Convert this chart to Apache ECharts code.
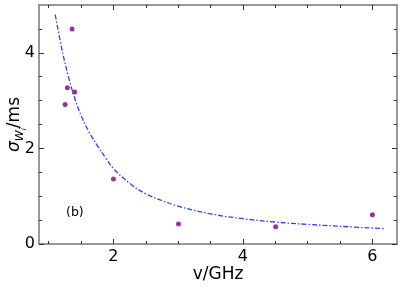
<!DOCTYPE html>
<html><head><meta charset="utf-8">
<script src="https://cdn.jsdelivr.net/npm/echarts@6/dist/echarts.min.js"></script>
<style>html,body{margin:0;padding:0;background:#fff}#c{width:407px;height:289px}</style>
</head><body><div id="c"></div>
<script>
// measured points (x = frequency GHz, y = sigma ms)
const pointsX = [1.253, 1.288, 1.361, 1.40, 2.0, 3.005, 4.506, 6.0];
const pointsY = [2.92, 3.27, 4.50, 3.18, 1.36, 0.42, 0.36, 0.61];
// fit curve
const curveX = [1.10, 1.20, 1.30, 1.40, 1.50, 1.62, 1.75, 1.88, 2.0, 2.25, 2.5, 2.75, 3.0, 3.5, 4.0, 4.5, 5.0, 5.5, 6.2];
const curveY = [4.80, 4.10, 3.52, 3.06, 2.69, 2.35, 2.06, 1.80, 1.58, 1.27, 1.05, 0.91, 0.79, 0.63, 0.53, 0.46, 0.41, 0.37, 0.32];
const xMajor = [2, 4, 6];
const xMinor = [1, 1.5, 2.5, 3, 3.5, 4.5, 5, 5.5];
const yMajor = [0, 2, 4];
const yMinor = [0.5, 1, 1.5, 2.5, 3, 3.5, 4.5];

const XMIN = 0.85, XMAX = 6.38, YMIN = 0, YMAX = 5.0;
const lineC = '#777', tickC = '#333';
function xa(pos, vals, len, labels, withLine) {
  return {
    type: 'value', position: pos, min: XMIN, max: XMAX,
    axisLine: {show: withLine, onZero: false, lineStyle: {color: lineC, width: 1.5}},
    axisTick: {show: true, inside: true, length: len, customValues: vals, lineStyle: {color: tickC, width: 1}},
    axisLabel: labels ? {show: true, customValues: vals, color: '#000', fontSize: 16, fontFamily: 'DejaVu Sans', margin: 5} : {show: false},
    splitLine: {show: false}
  };
}
function ya(pos, vals, len, labels, withLine) {
  return {
    type: 'value', position: pos, min: YMIN, max: YMAX,
    axisLine: {show: withLine, onZero: false, lineStyle: {color: lineC, width: 1.5}},
    axisTick: {show: true, inside: true, length: len, customValues: vals, lineStyle: {color: tickC, width: 1}},
    axisLabel: labels ? {show: true, customValues: vals, color: '#000', fontSize: 16, fontFamily: 'DejaVu Sans', margin: 4} : {show: false},
    splitLine: {show: false}
  };
}
const xAxes = [xa('bottom', xMajor, 5, true, true), xa('bottom', xMinor, 3, false, false), xa('top', xMajor, 5, false, true), xa('top', xMinor, 3, false, false)];
xAxes[0].name = 'v/GHz';
xAxes[0].nameLocation = 'middle';
xAxes[0].nameGap = 22;
xAxes[0].nameMoveOverlap = false;
xAxes[0].nameTextStyle = {fontSize: 17, fontFamily: 'DejaVu Sans', color: '#000'};
const yAxes = [ya('left', yMajor, 5, true, true), ya('left', yMinor, 3, false, false), ya('right', yMajor, 5, false, true), ya('right', yMinor, 3, false, false)];
yAxes[0].name = '{s|σ}{w|W}{i|i}{n|/ms}';
yAxes[0].nameLocation = 'middle';
yAxes[0].nameRotate = 90;
yAxes[0].nameGap = 16;
yAxes[0].nameMoveOverlap = false;
yAxes[0].nameTextStyle = {
  fontSize: 17, fontFamily: 'DejaVu Sans', color: '#000',
  rich: {
    s: {fontSize: 17, fontStyle: 'italic', fontFamily: 'DejaVu Sans', color: '#000', verticalAlign: 'bottom'},
    w: {fontSize: 11, fontStyle: 'italic', fontFamily: 'DejaVu Sans', color: '#000', verticalAlign: 'bottom', padding: [0, 0, -3, 0]},
    i: {fontSize: 8, fontStyle: 'italic', fontFamily: 'DejaVu Sans', color: '#000', verticalAlign: 'bottom', padding: [0, 0, -5, 0]},
    n: {fontSize: 17, fontFamily: 'DejaVu Sans', color: '#000', verticalAlign: 'bottom'}
  }
};

const chart = echarts.init(document.getElementById('c'), null, {renderer: 'canvas'});
chart.setOption({
  animation: false,
  backgroundColor: '#fff',
  grid: {left: 39, right: 10, top: 5, bottom: 45, containLabel: false, outerBoundsMode: 'none'},
  xAxis: xAxes,
  yAxis: yAxes,
  graphic: [{type: 'text', left: 66, top: 206, style: {text: '(b)', fontSize: 12.5, fontFamily: 'DejaVu Sans', fill: '#000'}}],
  series: [
    {type: 'line', data: curveX.map((x, i) => [x, curveY[i]]), smooth: 0.4, showSymbol: false,
     lineStyle: {color: '#3a3aff', width: 1.3, type: [5, 2, 1.5, 2]}, z: 2},
    {type: 'scatter', data: pointsX.map((x, i) => [x, pointsY[i]]), symbolSize: 5,
     itemStyle: {color: '#800080'}, z: 3}
  ]
});
</script></body></html>
